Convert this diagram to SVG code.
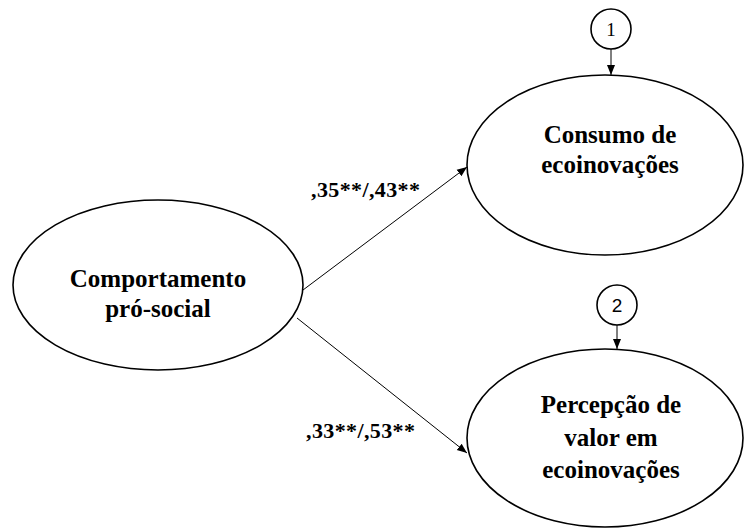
<svg xmlns="http://www.w3.org/2000/svg" width="744" height="529" viewBox="0 0 744 529">
<style>
.node{fill:#fff;stroke:#000;stroke-width:1.6}
.lbl{font-family:"Liberation Serif",serif;font-weight:bold;font-size:25px;text-anchor:middle;fill:#000}
.coef{font-family:"Liberation Serif",serif;font-weight:bold;font-size:22px;fill:#000}
.num{font-size:19px;text-anchor:middle;fill:#000}
.edge{stroke:#000;stroke-width:1;fill:none;marker-end:url(#ah)}
</style>
<defs>
<marker id="ah" viewBox="0 0 10 10" refX="10" refY="5" markerWidth="10" markerHeight="10" markerUnits="userSpaceOnUse" orient="auto">
<path d="M0,1 L10,5 L0,9 Z" fill="#000"/>
</marker>
</defs>
<rect width="744" height="529" fill="#fff"/>
<g id="connectors">
<line class="edge" x1="303" y1="290" x2="467" y2="167"/>
<line class="edge" x1="297" y1="318" x2="467" y2="453"/>
<line class="edge" x1="611" y1="49" x2="611" y2="75"/>
<line class="edge" x1="617" y1="325" x2="617" y2="349"/>
<text class="coef" x="311" y="197" textLength="109" lengthAdjust="spacing">,35**/,43**</text>
<text class="coef" x="306" y="438" textLength="109" lengthAdjust="spacing">,33**/,53**</text>
</g>
<g id="comportamento">
<ellipse class="node" cx="158" cy="285" rx="145" ry="85"/>
<text class="lbl" x="158" y="287">Comportamento</text>
<text class="lbl" x="158" y="317">pró-social</text>
</g>
<g id="consumo">
<ellipse class="node" cx="605" cy="165" rx="138" ry="90"/>
<text class="lbl" x="610" y="143">Consumo de</text>
<text class="lbl" x="610" y="173">ecoinovações</text>
</g>
<g id="percepcao">
<ellipse class="node" cx="605" cy="438" rx="138" ry="89"/>
<text class="lbl" x="611" y="413">Percepção de</text>
<text class="lbl" x="611" y="446">valor em</text>
<text class="lbl" x="611" y="478">ecoinovações</text>
</g>
<g id="erro1">
<circle class="node" cx="611" cy="29" r="20"/>
<text class="num" x="611" y="36" font-family="Liberation Serif,serif">1</text>
</g>
<g id="erro2">
<circle class="node" cx="617" cy="305" r="20"/>
<text class="num" x="617" y="312" font-family="Liberation Sans,sans-serif">2</text>
</g>
</svg>
